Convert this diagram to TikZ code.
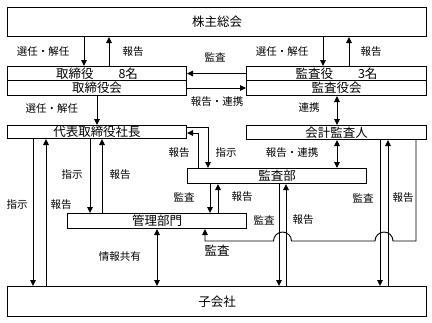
\documentclass[tikz,border=0pt]{standalone}
\usepackage{fontspec}
\setmainfont{Noto Sans CJK JP}
\usepackage{tikz}
\usetikzlibrary{arrows.meta,calc}
\tikzset{
  box/.style={draw,line width=1pt,anchor=north west,inner sep=0pt,align=center,font=\fontsize{12.5}{13}\selectfont},
  lbl/.style={inner sep=0pt,font=\fontsize{10.5}{11}\selectfont},
  arr/.style={-{Triangle[length=6pt,width=5.5pt]},line width=0.9pt},
  darr/.style={{Triangle[length=6pt,width=5.5pt]}-{Triangle[length=6pt,width=5.5pt]},line width=0.9pt}
}

\begin{document}
\begin{tikzpicture}[x=1pt,y=-1pt]
\useasboundingbox (0,0) rectangle (432,322);

% boxes
\node[box,minimum width=419pt,minimum height=29pt] (soukai) at (7,7) {株主総会};
\node[box,minimum width=179pt,minimum height=14pt] (tori) at (7,66) {取締役\hspace{2em}8名};
\node[box,minimum width=179pt,minimum height=15pt] (torikai) at (7,80) {取締役会};
\node[box,minimum width=180pt,minimum height=14pt] (kansa) at (246,66) {監査役\hspace{2em}3名};
\node[box,minimum width=180pt,minimum height=15pt] (kansakai) at (246,80) {監査役会};
\node[box,minimum width=179pt,minimum height=13pt] (shacho) at (7,125) {代表取締役社長};
\node[box,minimum width=180pt,minimum height=14pt] (kaikei) at (246,125) {会計監査人};
\node[box,minimum width=179pt,minimum height=15pt] (kansabu) at (187,168) {監査部};
\node[box,minimum width=179pt,minimum height=15pt] (kanri) at (67,213) {管理部門};
\node[box,minimum width=419pt,minimum height=30pt] (kogaisha) at (7,286) {子会社};

% shareholders
\draw[arr] (soukai.south -| 84,0) -- (tori.north -| 84,0);
\draw[arr] (tori.north -| 109,0) -- (soukai.south -| 109,0);
\draw[arr] (soukai.south -| 323,0) -- (kansa.north -| 323,0);
\draw[arr] (kansa.north -| 349,0) -- (soukai.south -| 349,0);
\node[lbl] (l1) at (43,52) {選任・解任};
\node[lbl] (l2) at (133,52) {報告};
\node[lbl] (l3) at (282,52) {選任・解任};
\node[lbl] (l4) at (371,52) {報告};

% board and auditors
\draw[arr] (kansa.west) -- (tori.east);
\draw[arr] (torikai.east) -- (kansakai.west);
\node[lbl] (l5) at (215,57) {監査};
\node[lbl] (l6) at (217,102) {報告・連携};
\draw[arr] (torikai.south) -- (shacho.north);
\node[lbl] (l7) at (52,109) {選任・解任};
\draw[darr] (kansakai.south -| 337,0) -- (kaikei.north -| 337,0);
\node[lbl] (l8) at (309,108) {連携};

% president and audit dept
\draw[arr] (shacho.east |- 0,127) -| (kansabu.north -| 208,0);
\draw[arr] (kansabu.north -| 198,0) |- (shacho.east |- 0,133);
\node[lbl] (l9) at (179,153) {報告};
\node[lbl] (l10) at (226,153) {指示};
\draw[darr] (kaikei.south -| 337,0) -- (kansabu.north -| 337,0);
\node[lbl] (l11) at (292,153) {報告・連携};

% president and management
\draw[arr] (shacho.south -| 90,0) -- (kanri.north -| 90,0);
\draw[arr] (kanri.north -| 102,0) -- (shacho.south -| 102,0);
\node[lbl] (l12) at (72,175) {指示};
\node[lbl] (l13) at (120,175) {報告};
\draw[arr] (shacho.south -| 33,0) -- (kogaisha.north -| 33,0);
\draw[arr] (kogaisha.north -| 46,0) -- (shacho.south -| 46,0);
\node[lbl] (l14) at (17,205) {指示};
\node[lbl] (l15) at (61,205) {報告};

% audit dept
\draw[arr] (kansabu.south -| 210,0) -- (kanri.north -| 210,0);
\draw[arr] (kanri.north -| 218,0) -- (kansabu.south -| 218,0);
\node[lbl] (l16) at (184,197) {監査};
\node[lbl] (l17) at (242,197) {報告};
\draw[arr] (kansabu.south -| 279,0) -- (kogaisha.north -| 279,0);
\draw[arr] (kogaisha.north -| 286,0) -- (kansabu.south -| 286,0);
\node[lbl] (l18) at (264,220) {監査};
\node[lbl] (l19) at (303,220) {報告};

% accounting auditor
\draw[arr] (kaikei.south -| 380,0) -- (kogaisha.north -| 380,0);
\draw[arr] (kogaisha.north -| 388,0) -- (kaikei.south -| 388,0);
\node[lbl] (l20) at (363,198) {監査};
\node[lbl] (l21) at (403,198) {報告};
\draw[arr] (kaikei.south -| 416,0) -- (416,241) -- (393,241)
  arc[start angle=0,end angle=180,radius=9pt] -- (291.5,241)
  arc[start angle=0,end angle=180,radius=9pt] -- (205,241)
  -- (kanri.south -| 205,0);
\node[inner sep=0pt,font=\fontsize{12.5}{13}\selectfont] (l22) at (217,251) {監査};

% management and subsidiaries
\draw[darr] (kanri.south) -- (kanri.south |- kogaisha.north);
\node[lbl] (l23) at (120,257) {情報共有};
\end{tikzpicture}
\end{document}
